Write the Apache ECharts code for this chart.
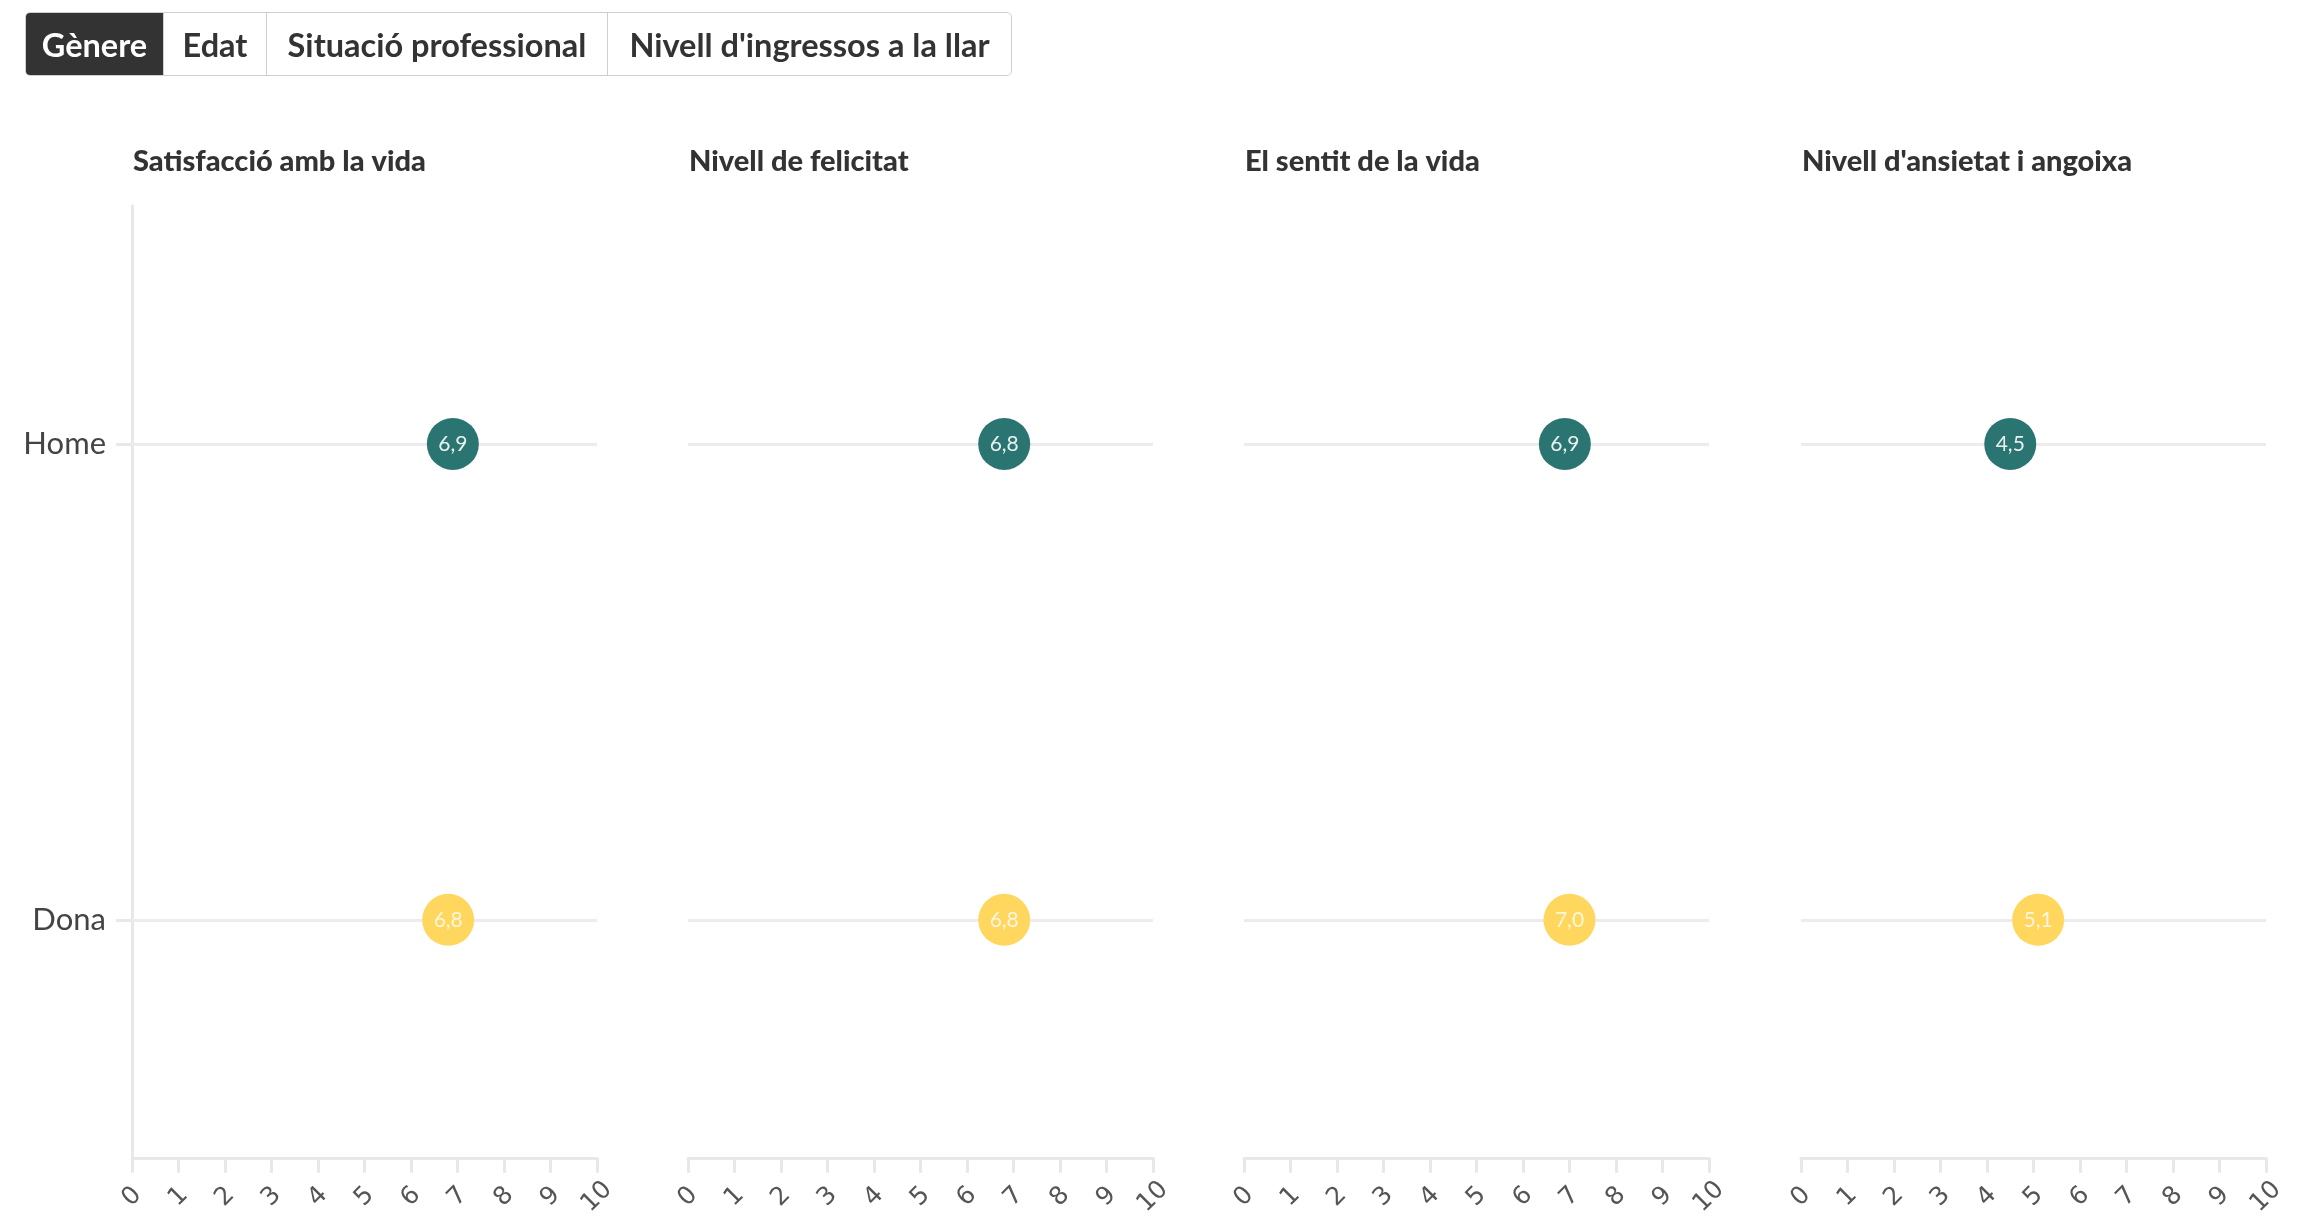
<!DOCTYPE html>
<html lang="ca">
<head>
  <meta charset="UTF-8">
  <title>Benestar per gènere</title>
  <script src="https://cdn.jsdelivr.net/npm/echarts@6/dist/echarts.min.js"></script>
  <style>
    html, body { margin: 0; padding: 0; background: #fff; }
    body { width: 2305px; height: 1219px; position: relative; overflow: hidden; font-family: Lato, sans-serif; }
    .tabs {
      position: absolute; left: 25px; top: 12px; height: 62px;
      display: flex; border: 1.5px solid #cfcfcf; border-radius: 5px; overflow: hidden;
    }
    .tabs div {
      display: flex; align-items: center; justify-content: center;
      font-weight: 700; font-size: 32.5px; color: #333; border-left: 1.5px solid #cfcfcf;
    }
    .tabs div:first-child { border-left: none; background: #333; color: #fff; }
    #chart { position: absolute; left: 0; top: 0; width: 2305px; height: 1219px; }
  </style>
</head>
<body>

<div id="chart"></div>
<div class="tabs">
  <div style="width:137px">Gènere</div>
  <div style="width:102px">Edat</div>
  <div style="width:340px">Situació professional</div>
  <div style="width:403px">Nivell d'ingressos a la llar</div>
</div>

<script>
  const groups = ["Home", "Dona"];
  const indicators = ["Satisfacció amb la vida", "Nivell de felicitat", "El sentit de la vida", "Nivell d'ansietat i angoixa"];
  const homeValues = [6.9, 6.8, 6.9, 4.5];
  const donaValues = [6.8, 6.8, 7.0, 5.1];
  const xTicks = [0, 1, 2, 3, 4, 5, 6, 7, 8, 9, 10];
  const colors = { Home: "#2a7471", Dona: "#ffd75e" };

  const chart = echarts.init(document.getElementById("chart"));

  const lefts = [132, 688, 1244, 1801];
  const gridW = 465, gridTop = 206, gridH = 961;

  const grids = [], xAxes = [], yAxes = [], titles = [], series = [];
  indicators.forEach((name, i) => {
    grids.push({ left: lefts[i], top: gridTop, width: gridW, height: gridH });
    titles.push({
      text: name, left: lefts[i] + 1, top: 147, padding: 0,
      textStyle: { fontFamily: "Lato", fontWeight: 900, fontSize: 29, color: "#333" }
    });
    xAxes.push({
      gridIndex: i, type: "value", min: xTicks[0], max: xTicks[xTicks.length - 1], interval: 1,
      axisLine: { show: true, lineStyle: { color: "#e8e8e8", width: 3 } },
      axisTick: { show: true, length: 15, lineStyle: { color: "#e8e8e8", width: 3 } },
      splitLine: { show: false },
      axisLabel: {
        rotate: 45, align: "center", verticalAlign: "middle", margin: 39,
        fontFamily: "DejaVu Sans", fontSize: 25, color: "#555"
      }
    });
    yAxes.push({
      gridIndex: i, type: "category", data: groups, inverse: true,
      axisLine: { show: i === 0, lineStyle: { color: "#e8e8e8", width: 3 } },
      axisTick: { show: i === 0, alignWithLabel: true, length: 16, lineStyle: { color: "#e8e8e8", width: 3 } },
      axisLabel: { show: i === 0, margin: 26, fontFamily: "Lato", fontSize: 31, color: "#444" },
      splitLine: { show: false }
    });
    // light guide lines at each category
    series.push({
      type: "scatter", xAxisIndex: i, yAxisIndex: i, data: [], z: 1, silent: true,
      markLine: {
        z: 1, symbol: "none", silent: true, label: { show: false },
        lineStyle: { color: "#ececec", width: 3, type: "solid" },
        data: groups.map(g => ({ yAxis: g }))
      }
    });
    [["Home", homeValues], ["Dona", donaValues]].forEach(([g, vals]) => {
      series.push({
        name: g, type: "scatter", xAxisIndex: i, yAxisIndex: i, z: 10,
        symbolSize: 52,
        itemStyle: { color: colors[g], opacity: 1 },
        label: {
          show: true, position: "inside", fontFamily: "Lato", fontSize: 21,
          color: g === "Home" ? "#e8f1f0" : "#fff6dc",
          formatter: p => p.value[0].toFixed(1).replace(".", ",")
        },
        data: [[vals[i], g]]
      });
    });
  });

  chart.setOption({
    animation: false,
    title: titles,
    grid: grids,
    xAxis: xAxes,
    yAxis: yAxes,
    series: series
  });
</script>
</body>
</html>
